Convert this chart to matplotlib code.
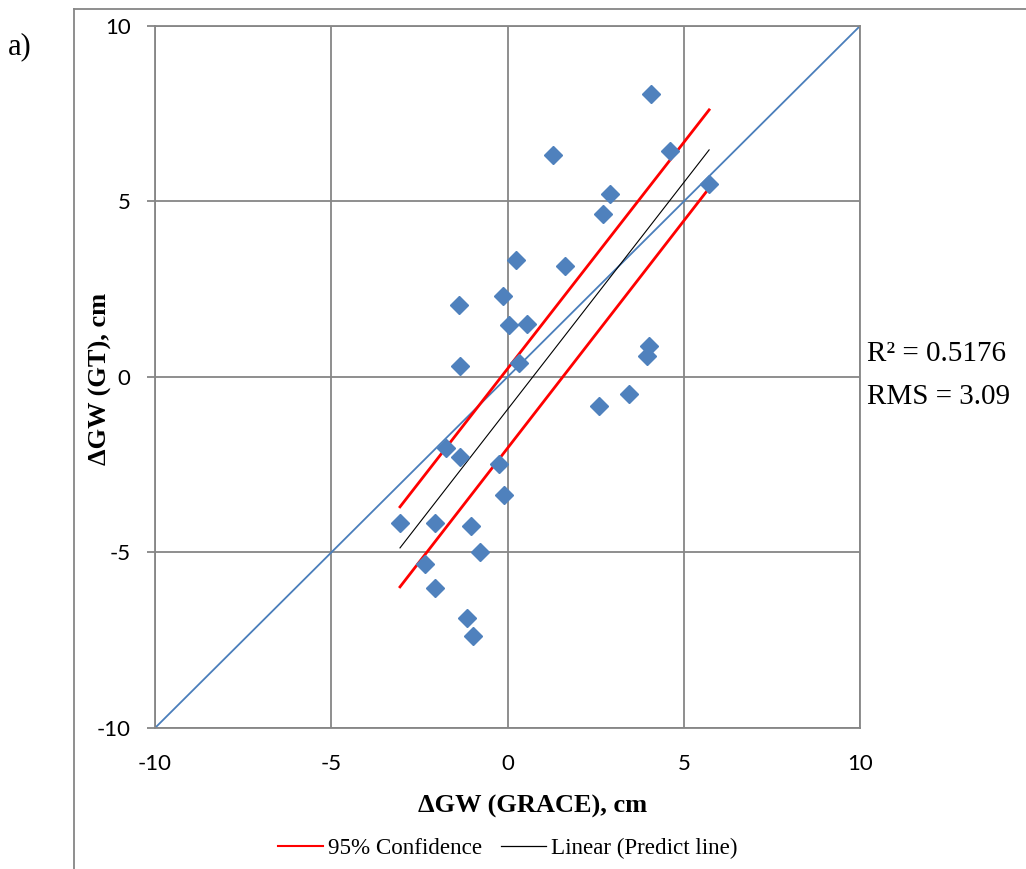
import numpy as np
import matplotlib.pyplot as plt
from matplotlib.lines import Line2D

plt.rcParams['axes.unicode_minus'] = False

# measured points: change in groundwater, GRACE vs ground truth (cm)
gw_grace = [4.07, 1.30, 4.61, 2.91, 5.72, 2.71, 0.24, 1.63, -1.38, -0.13,
            0.04, 0.55, 4.01, 3.96, -1.35, 0.33, 2.60, 3.45, -1.74, -1.35,
            -0.24, -0.10, -3.05, -2.06, -1.04, -0.78, -2.34, -2.06, -1.15, -0.98]
gw_gt = [8.06, 6.32, 6.44, 5.21, 5.50, 4.64, 3.33, 3.16, 2.05, 2.31,
         1.48, 1.51, 0.88, 0.60, 0.31, 0.40, -0.83, -0.48, -2.02, -2.28,
         -2.48, -3.36, -4.16, -4.16, -4.25, -4.99, -5.33, -6.01, -6.87, -7.38]

# fitted line and 95% bounds (endpoints)
fit_x = [-3.05, 5.72]
fit_y = [-4.87, 6.47]
upper_y = [-3.70, 7.61]
lower_y = [-5.98, 5.38]
one_to_one = [-10, 10]

ticks = [-10, -5, 0, 5, 10]

serif = 'Liberation Serif'
tick_font = 'Lato'

fig = plt.figure(figsize=(10.26, 8.69), dpi=100)
ax = fig.add_axes([0.1511, 0.1623, 0.6871, 0.8078])

ax.plot(one_to_one, one_to_one, color='#4A7EBB', lw=1.3, zorder=2)
ax.plot(fit_x, upper_y, color='#FF0000', lw=2.0, zorder=3)
ax.plot(fit_x, lower_y, color='#FF0000', lw=2.0, zorder=3)
ax.plot(fit_x, fit_y, color='black', lw=0.8, zorder=3)
ax.plot(gw_grace, gw_gt, linestyle='none', marker='D', ms=9.5,
        color='#4F81BD', mec='#4F81BD', zorder=4)

ax.set_xlim(-10, 10)
ax.set_ylim(-10, 10)
ax.set_xticks(ticks)
ax.set_yticks(ticks)
ax.grid(True, color='#868686', lw=1.3, zorder=0)
ax.set_axisbelow(True)
for sp in ax.spines.values():
    sp.set_color('#868686')
    sp.set_linewidth(1.3)
ax.tick_params(axis='x', length=0, pad=19, labelsize=16)
ax.tick_params(axis='y', length=5.5, width=1.3, color='#868686',
               pad=12, labelsize=16)
for lab in ax.get_xticklabels() + ax.get_yticklabels():
    lab.set_fontfamily(tick_font)

ax.set_xlabel('ΔGW (GRACE), cm', fontfamily=serif, fontweight='bold',
              fontsize=19, va='center')
ax.set_ylabel('ΔGW (GT), cm', fontfamily=serif, fontweight='bold',
              fontsize=19, va='center')
ax.xaxis.set_label_coords(0.536, -0.112)
ax.yaxis.set_label_coords(-0.078, 0.497)

fig.text(0.845, 0.593, 'R² = 0.5176', fontfamily=serif, fontsize=21,
         va='center', ha='left')
fig.text(0.845, 0.543, 'RMS = 3.09', fontfamily=serif, fontsize=21,
         va='center', ha='left')
fig.text(0.008, 0.946, 'a)', fontfamily=serif, fontsize=22,
         va='center', ha='left')

handles = [Line2D([], [], color='#FF0000', lw=1.5),
           Line2D([], [], color='black', lw=0.9)]
fig.legend(handles, ['95% Confidence', 'Linear (Predict line)'],
           loc='center', bbox_to_anchor=(0.495, 0.024), ncol=2,
           frameon=False, prop={'family': serif, 'size': 16.6},
           handlelength=1.95, handletextpad=0.2, columnspacing=0.85)

# outer chart frame
fig.add_artist(Line2D([0.072, 0.072], [0.0, 0.990], color='#868686',
                      lw=1.3, transform=fig.transFigure))
fig.add_artist(Line2D([0.072, 1.0], [0.990, 0.990], color='#868686',
                      lw=1.3, transform=fig.transFigure))

fig.savefig('out.png', dpi=100)
